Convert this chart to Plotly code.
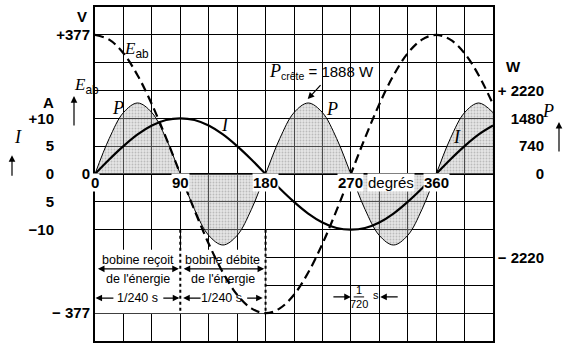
import plotly.graph_objects as go

# ---------------- data ----------------
ANGLE_DEG = [0, 15, 30, 45, 60, 75, 90, 105, 120, 135, 150, 165, 180, 195, 210, 225, 240,
             255, 270, 285, 300, 315, 330, 345, 360, 375, 390, 405, 420]
E_AB_V = [377, 364, 327, 267, 189, 98, 0, -98, -189, -267, -327, -364, -377, -364, -327, -267,
          -189, -98, 0, 98, 189, 267, 327, 364, 377, 364, 327, 267, 189]
I_A = [0, 2.6, 5, 7.1, 8.7, 9.7, 10, 9.7, 8.7, 7.1, 5, 2.6, 0, -2.6, -5, -7.1, -8.7, -9.7, -10,
       -9.7, -8.7, -7.1, -5, -2.6, 0, 2.6, 5, 7.1, 8.7]
P_W = [0, 943, 1633, 1888, 1633, 943, 0, -943, -1633, -1888, -1633, -943, 0, 943, 1633, 1888,
       1633, 943, 0, -943, -1633, -1888, -1633, -943, 0, 943, 1633, 1888, 1633]

X_GRID = [0, 30, 60, 90, 120, 150, 180, 210, 240, 270, 300, 330, 360, 390, 420]
X_LABEL_VALS = [0, 90, 180, 270, 360]
X_LABELS = ["0", "90", "180", "270", "360"]

V_TICKS = [-377, 0, 377]
V_LABELS = ["− 377", "0", "+377"]
A_TICKS = [-10, -5, 0, 5, 10]
A_LABELS = ["−10", "5", "0", "5", "+10"]
W_TICKS = [-2220, 0, 740, 1480, 2220]
W_LABELS = ["− 2220", "0", "740", "1480", "+ 2220"]

V_RANGE = [-452.4, 452.4]
A_RANGE = [-30, 30]
W_RANGE = [-4440, 4440]
W_GRID_STEP = 740

SERIF = "Liberation Serif"
SANS = "Liberation Sans"

fig = go.Figure()

# P on the main y axis (drawn first, below the curves)
fig.add_trace(go.Scatter(
    x=ANGLE_DEG, y=P_W, yaxis="y", mode="lines", line=dict(color="black", width=1, shape="spline"),
    fill="tozeroy", fillcolor="rgba(150,150,150,0.45)",
    fillpattern=dict(shape=".", fgcolor="rgba(60,60,60,0.5)", bgcolor="rgba(190,190,190,0.4)",
                     size=3, solidity=0.3),
    hoverinfo="skip"))
fig.add_trace(go.Scatter(
    x=ANGLE_DEG, y=I_A, yaxis="y2", mode="lines",
    line=dict(color="black", width=2.2, shape="spline"), hoverinfo="skip"))
fig.add_trace(go.Scatter(
    x=ANGLE_DEG, y=E_AB_V, yaxis="y3", mode="lines",
    line=dict(color="black", width=2.2, shape="spline", dash="9px,5px"), hoverinfo="skip"))

bold = dict(family=SANS, size=15, color="black", weight="bold")

fig.update_layout(
    width=566, height=347,
    margin=dict(l=0, r=0, t=7, b=6),
    plot_bgcolor="white", paper_bgcolor="white",
    showlegend=False,
    font=dict(family=SANS, color="black", size=14),
    xaxis=dict(domain=[95 / 566, 493 / 566], range=[0, 420], tickvals=X_GRID,
               showticklabels=False, ticks="", showgrid=True, gridcolor="black", gridwidth=1,
               zeroline=False, showline=True, mirror=True, linecolor="black", linewidth=2),
    # power axis: grid + labels on the right (right-aligned)
    yaxis=dict(range=W_RANGE, anchor="free", position=544 / 566, side="left",
               tickvals=W_TICKS, ticktext=W_LABELS, tickfont=bold, ticks="",
               showgrid=True, gridcolor="black", gridwidth=1,
               minor=dict(tickmode="linear", tick0=0, dtick=W_GRID_STEP, showgrid=True,
                          gridcolor="black", gridwidth=1, ticks=""),
               zeroline=True, zerolinecolor="black", zerolinewidth=2, showline=False),
    # current axis: labels far left
    yaxis2=dict(range=A_RANGE, overlaying="y", anchor="free", position=54 / 566, side="left",
                tickvals=A_TICKS, ticktext=A_LABELS, tickfont=bold, ticks="",
                showgrid=False, zeroline=False, showline=False),
    # voltage axis: labels next to the frame, frame lines
    yaxis3=dict(range=V_RANGE, overlaying="y", anchor="x", side="left",
                tickvals=V_TICKS, ticktext=V_LABELS, tickfont=bold, ticks="",
                showgrid=False, zeroline=False,
                showline=True, mirror=True, linecolor="black", linewidth=2),
)

V_TO_W = W_RANGE[1] / V_RANGE[1]
# white area behind the explanatory text
fig.add_shape(type="rect", xref="x", yref="y", x0=0, x1=180, y0=-377 * V_TO_W, y1=-205 * V_TO_W,
              fillcolor="white", line=dict(width=0), layer="between")
# dotted separators
for xv in [90, 180]:
    fig.add_shape(type="line", xref="x", yref="y", x0=xv, x1=xv, y0=-150.8 * V_TO_W,
                  y1=-377 * V_TO_W, line=dict(color="black", width=2, dash="dot"), layer="above")
# fraction bar for 1/720
fig.add_shape(type="line", xref="x", yref="y", x0=273, x1=284, y0=-333 * V_TO_W, y1=-333 * V_TO_W,
              line=dict(color="black", width=1))

ann = []
# x axis labels (with white background)
for v, t in zip(X_LABEL_VALS, X_LABELS):
    ann.append(dict(x=v, y=-24, xref="x", yref="y3", text=t, showarrow=False,
                    font=dict(family=SANS, size=15, weight="bold"), bgcolor="white", borderpad=0))
ann.append(dict(x=312, y=-24, xref="x", yref="y3", text="degrés", showarrow=False,
                font=dict(family=SANS, size=15), bgcolor="white", borderpad=0))

# unit titles
ann.append(dict(x=75 / 566, y=428, xref="paper", yref="y3", text="V", showarrow=False, font=bold))
ann.append(dict(x=41 / 566, y=193, xref="paper", yref="y3", text="A", showarrow=False, font=bold))
ann.append(dict(x=523 / 566, y=290, xref="paper", yref="y3", text="W", showarrow=False, font=bold))

# axis symbols with arrows
ann.append(dict(x=72 / 566, y=238, xref="paper", yref="y3",
                text=f"<span style='font-family:{SERIF}'><i>E</i></span><sub>ab</sub>",
                showarrow=False, font=dict(family=SANS, size=17)))
ann.append(dict(x=12 / 566, y=100, xref="paper", yref="y3",
                text="<i>I</i>", showarrow=False, font=dict(family=SERIF, size=18)))
ann.append(dict(x=556 / 566, y=170, xref="paper", yref="y3",
                text="<i>P</i>", showarrow=False, font=dict(family=SERIF, size=18)))
for xp, tip, length in [(74 / 566, 211, 31), (12 / 566, 51, 22), (559 / 566, 141, 31)]:
    ann.append(dict(x=xp, y=tip, ax=0, ay=length, xref="paper", yref="y3", axref="pixel",
                    ayref="pixel", text="", showarrow=True, arrowhead=2, arrowsize=1.1,
                    arrowwidth=1.2, arrowcolor="black"))

# curve labels
ann.append(dict(x=44, y=336, xref="x", yref="y3",
                text=f"<span style='font-family:{SERIF}'><i>E</i></span><sub>ab</sub>",
                showarrow=False, font=dict(family=SANS, size=17)))
for xv, yv, t in [(24, 179, "P"), (250, 176, "P"), (137, 133, "I"), (382, 100, "I")]:
    ann.append(dict(x=xv, y=yv, xref="x", yref="y3", text=f"<i>{t}</i>", showarrow=False,
                    font=dict(family=SERIF, size=18)))

# peak power
ann.append(dict(x=239.5, y=278, xref="x", yref="y3",
                text=f"<span style='font-family:{SERIF};font-size:18px'><i>P</i></span><sub>crête</sub> = 1888 W",
                showarrow=False, font=dict(family=SANS, size=15)))
ann.append(dict(x=224.5, y=203, ax=239.5, ay=245, xref="x", yref="y3", axref="x", ayref="y3",
                text="", showarrow=True, arrowhead=2, arrowsize=1.1, arrowwidth=1.2,
                arrowcolor="black"))

# explanatory text
small = dict(family=SANS, size=12.5)
for xc, l1 in [(45, "bobine reçoit"), (135, "bobine débite")]:
    ann.append(dict(x=xc, y=-233, xref="x", yref="y3", text=l1, showarrow=False, font=small))
    ann.append(dict(x=xc, y=-284, xref="x", yref="y3", text="de l'énergie", showarrow=False, font=small))
ann.append(dict(x=45, y=-336, xref="x", yref="y3", text="1/240 s", showarrow=False, font=small))
ann.append(dict(x=134, y=-336, xref="x", yref="y3", text="1/240 s", showarrow=False, font=small))

arrow_common = dict(xref="x", yref="y3", axref="x", ayref="y3", text="", showarrow=True,
                    arrowhead=2, arrowsize=1.1, arrowwidth=1.2, arrowcolor="black")
# double arrows
for a, b in [(1.5, 88.5), (92, 178.5)]:
    ann.append(dict(x=b, y=-257, ax=a, ay=-257, arrowside="end+start", **arrow_common))
# duration arrows
for tip, tail in [(0.5, 21), (89, 70.5), (93, 113), (177, 159)]:
    ann.append(dict(x=tip, y=-336, ax=tail, ay=-336, **arrow_common))
for tip, tail in [(270, 250), (301, 321)]:
    ann.append(dict(x=tip, y=-333, ax=tail, ay=-333, **arrow_common))

# 1/720 s
frac = dict(family=SANS, size=11)
ann.append(dict(x=278.5, y=-313, xref="x", yref="y3", text="1", showarrow=False, font=frac))
ann.append(dict(x=278.5, y=-351, xref="x", yref="y3", text="720", showarrow=False, font=frac))
ann.append(dict(x=297, y=-328, xref="x", yref="y3", text="s", showarrow=False, font=frac))

fig.update_layout(annotations=ann)
fig.write_html("out.html")
